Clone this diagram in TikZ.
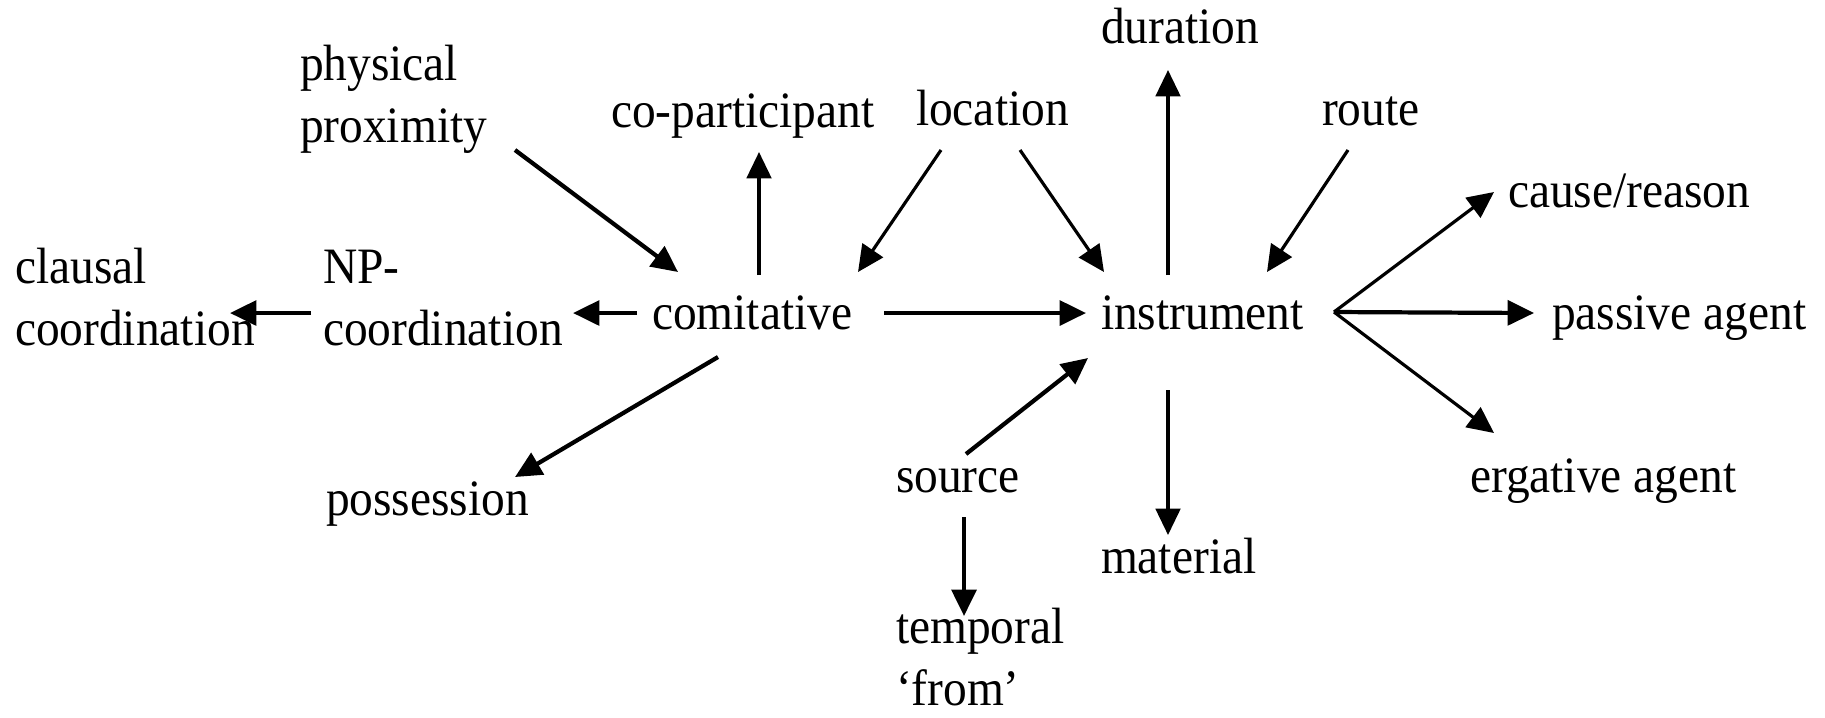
\documentclass[tikz,border=0pt]{standalone}
\usepackage{fontspec}
\setmainfont{Liberation Serif}[FakeStretch=0.93]
\usetikzlibrary{arrows.meta,calc}
\newcommand\mytwo[2]{\vtop{\baselineskip=17.9pt\hbox{#1}\hbox{#2}}}
\begin{document}
\begin{tikzpicture}[x=0.01cm,y=-0.01cm,
  lbl/.style={anchor=base west, inner sep=0pt, outer sep=0pt, font=\fontsize{14.5}{17.9}\selectfont},
  arr/.style={-{Triangle[length=7.5pt,width=7pt]}, line width=0.9pt},
  tarr/.style={arr, line width=1.2pt}]
\useasboundingbox[fill=white] (0,0) rectangle (1825,717);
\node[lbl] (phys) at (300,80) {\mytwo{physical}{proximity}};
\node[lbl] (copart) at (611,127) {co-participant};
\node[lbl] (loc) at (916,125) {location};
\node[lbl] (dur) at (1101,43) {duration};
\node[lbl] (route) at (1322,125) {route};
\node[lbl] (cause) at (1508,207) {cause/reason};
\node[lbl] (clausal) at (15,283) {\mytwo{clausal}{coordination}};
\node[lbl] (npc) at (323,283) {\mytwo{NP-}{coordination}};
\node[lbl] (comit) at (652,329) {comitative};
\node[lbl] (instr) at (1101,329) {instrument};
\node[lbl] (passive) at (1552,329) {passive agent};
\node[lbl] (poss) at (326,515) {possession};
\node[lbl] (source) at (896,492) {source};
\node[lbl] (erg) at (1470,492) {ergative agent};
\node[lbl] (mat) at (1101,573) {material};
\node[lbl] (temp) at (896,643) {\mytwo{temporal}{‘from’}};

\draw[tarr] ($(phys.base west)+(215,70)$) -- ($(comit.base west)+(26,-57)$);
\draw[arr] ($(comit.base west)+(107,-54)$) -- ($(copart.base west)+(148,25)$);
\draw[arr] ($(loc.base west)+(25,25)$) -- ($(comit.base west)+(206,-57)$);
\draw[arr] ($(loc.base west)+(104,25)$) -- ($(instr.base west)+(3,-57)$);
\draw[arr] ($(instr.base west)+(67,-54)$) -- ($(dur.base west)+(67,27)$);
\draw[arr] ($(route.base west)+(26,25)$) -- ($(instr.base west)+(166,-57)$);
\draw[tarr] ($(comit.base west)+(-15,-16)$) -- ($(npc.base west)+(250,30)$);
\draw[tarr] ($(npc.base west)+(-12,30)$) -- ($(clausal.base west)+(215,30)$);
\draw[tarr] ($(comit.base west)+(232,-16)$) -- ($(instr.base west)+(-15,-16)$);
\draw[tarr] ($(comit.base west)+(66,28)$) -- ($(poss.base west)+(189,-38)$);
\draw[tarr] ($(source.base west)+(70,-38)$) -- ($(instr.base west)+(-13,29)$);
\draw[tarr] ($(source.base west)+(68,25)$) -- ($(temp.base west)+(68,-27)$);
\draw[arr] ($(instr.base west)+(67,61)$) -- ($(mat.base west)+(67,-38)$);
\draw[arr] ($(instr.base west)+(233,-17)$) -- ($(cause.base west)+(-14,-15)$);
\draw[tarr] ($(instr.base west)+(233,-17)$) -- ($(passive.base west)+(-18,-16)$);
\draw[arr] ($(instr.base west)+(233,-17)$) -- ($(erg.base west)+(24,-59)$);
\end{tikzpicture}
\end{document}
